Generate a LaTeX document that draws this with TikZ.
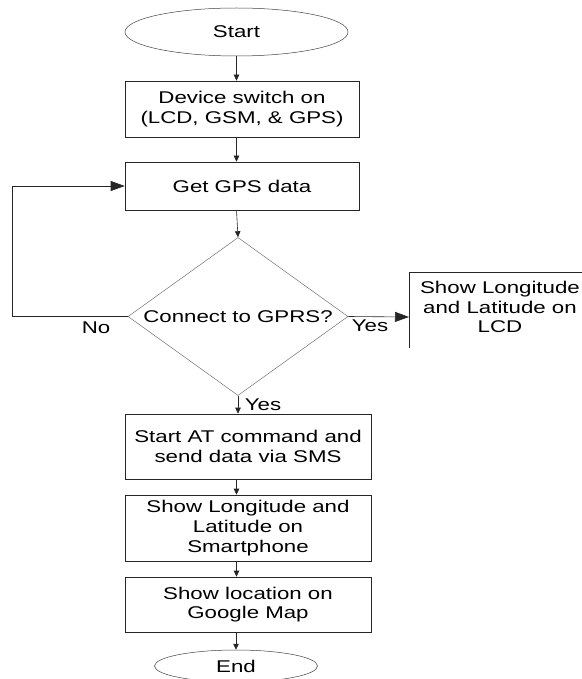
\documentclass[tikz,border=0pt]{standalone}
\usepackage{fontspec}
\setmainfont{Liberation Sans}[FakeStretch=1.31]
\usepackage{tikz}
\usetikzlibrary{arrows.meta,shapes.geometric}

\begin{document}
\begin{tikzpicture}[x=1pt,y=-1pt,
  font=\fontsize{17}{19.8}\selectfont,
  box/.style={draw=black!85,line width=0.6pt,rectangle,align=center,inner sep=0pt},
  term/.style={draw=black!75,line width=0.5pt,ellipse,inner sep=0pt},
  decide/.style={draw=black!55,line width=0.5pt,diamond,aspect=1.4,inner sep=0pt},
  arr/.style={draw=black!85,line width=0.6pt,-{Triangle[length=6pt,width=5.5pt]}},
  bigarr/.style={draw=black!85,line width=0.6pt,-{Triangle[length=14pt,width=10pt]}}]
\useasboundingbox (0,0) rectangle (581,679);
\node[term,minimum width=223pt,minimum height=48pt] (start) at (236.5,32) {Start};
\node[box,minimum width=234pt,minimum height=56pt] (dev) at (242,109) {Device switch on\\(LCD, GSM, \& GPS)};
\node[box,minimum width=234pt,minimum height=48pt] (gps) at (242,186) {Get GPS data};
\node[decide,minimum width=220pt,minimum height=158pt] (dec) at (238,316.5) {Connect to GPRS?};
\node[align=center,inner sep=0pt] (lcd) at (500,307) {Show Longitude\\and Latitude on\\LCD};
\coordinate (lcdin) at (409,317);
\draw[draw=black!85,line width=0.6pt] (409,348) |- (590,272);
\node[box,minimum width=246pt,minimum height=65pt] (at) at (248,446.5) {Start AT command and\\send data via SMS};
\node[box,minimum width=246pt,minimum height=66pt] (phone) at (248,528) {Show Longitude and\\Latitude on\\Smartphone};
\node[box,minimum width=246pt,minimum height=55pt] (map) at (248,604.5) {Show location on\\Google Map};
\node[term,minimum width=163pt,minimum height=32pt] (end) at (236,666) {End};

% labels
\node (no) at (96,328) {No};
\node (yesr) at (370,326) {Yes};
\node (yesd) at (263,405) {Yes};

% arrows
\draw[arr] (start.south) -- (start.south |- dev.north);
\draw[arr] (dev.south -| start.south) -- (gps.north -| start.south);
\draw[arr] (gps.south -| start.south) -- (dec.north);
\draw[arr] (dec.south) -- (dec.south |- at.north);
\draw[arr] (at.south -| start.south) -- (phone.north -| start.south);
\draw[arr] (phone.south -| start.south) -- (map.north -| start.south);
\draw[arr] (map.south -| end.north) -- (end.north);
\draw[bigarr] (dec.west) -- ++(-115,0) |- (gps.west);
\draw[bigarr] (dec.east) -- (lcdin);
\end{tikzpicture}
\end{document}
